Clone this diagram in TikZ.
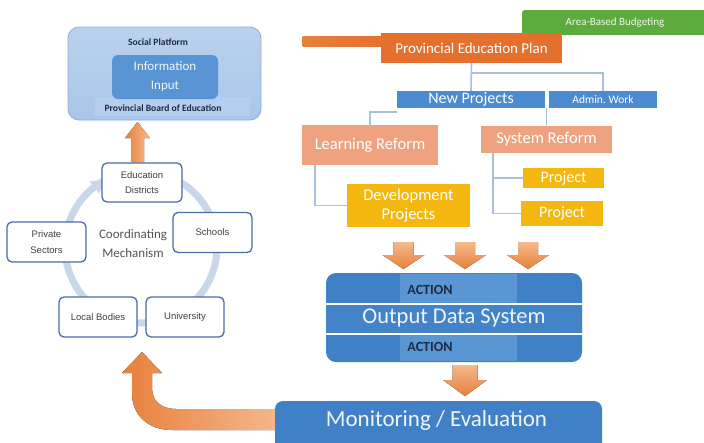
\documentclass[tikz,border=0pt]{standalone}
\usepackage{fontspec}
\setmainfont{Carlito}
\newfontfamily\arialfont{Liberation Sans}
\usetikzlibrary{calc}

\definecolor{panelblue}{HTML}{A9C6E9}
\definecolor{panelline}{HTML}{8EB0DB}
\definecolor{bandblue}{HTML}{B5CEEE}
\definecolor{infoblue}{HTML}{5893D3}
\definecolor{ringblue}{HTML}{C9D7EB}
\definecolor{edgeblue}{HTML}{4A6DA6}
\definecolor{planorange}{HTML}{E5702E}
\definecolor{salmon}{HTML}{EFA27F}
\definecolor{gold}{HTML}{F4B70F}
\definecolor{midblue}{HTML}{4B8BD2}
\definecolor{deepblue}{HTML}{3F80C6}
\definecolor{liteblue}{HTML}{5A96D3}
\definecolor{budgetgreen}{HTML}{5DAA3D}
\definecolor{linkblue}{HTML}{A8C0DE}
\definecolor{arrowlight}{HTML}{F5B88D}
\definecolor{arrowdark}{HTML}{E8803C}
\definecolor{inktext}{HTML}{1E2B42}
\definecolor{softgray}{HTML}{555555}

\tikzset{
  flatbox/.style={rectangle, inner sep=0pt, text=white, align=center},
  cbox/.style={draw=edgeblue, line width=1.3pt, fill=white, rounded corners=5pt,
    inner sep=0pt, minimum width=79pt, minimum height=40pt, align=center,
    text=black!75, font=\arialfont\fontsize{9.5}{15.5}\selectfont},
  link/.style={draw=linkblue, line width=1.6pt},
  blockarrow/.style={top color=arrowlight, bottom color=arrowdark, draw=none},
  actionlabel/.style={text=inktext, font=\bfseries\fontsize{14}{16}\selectfont},
  panellabel/.style={text=inktext, font=\bfseries\fontsize{9.6}{11}\selectfont},
}

% standard orange block arrow pointing down: centre x, top y
\newcommand{\dropArrow}[2]{%
  \fill[blockarrow] (#1-10,#2) -- (#1+10,#2) -- (#1+10,#2+13) -- (#1+21,#2+13)
    -- (#1,#2+27) -- (#1-21,#2+13) -- (#1-10,#2+13) -- cycle;}

\begin{document}
\begin{tikzpicture}[x=1pt,y=-1pt]
\clip (0,0) rectangle (704,442);
\fill[white] (0,0) rectangle (704,442);

% ---------- social platform ----------
\node[draw=panelline, line width=0.8pt, top color=panelblue!80!white, bottom color=panelblue, rounded corners=11pt,
      minimum width=193pt, minimum height=93pt, inner sep=0pt] (platform) at (164.5,73.5) {};
\node[fill=bandblue, minimum width=155pt, minimum height=19pt, inner sep=0pt] (band) at (172.5,106.5) {};
\node[flatbox, fill=infoblue, rounded corners=6pt, minimum width=106pt, minimum height=44pt,
      font=\fontsize{13}{19}\selectfont, text=white!92!infoblue] (info) at (165,77) {Information\\Input};
\node[panellabel] (social) at (158,42) {Social Platform};
\node[panellabel] (board) at (163,108) {Provincial Board of Education};

% ---------- coordinating ring ----------
\draw[ringblue, line width=7pt] (141,247) circle[radius=76];
\fill[ringblue] (89.5,181) -- (105.5,180) -- (99,193.5) -- cycle;
\node[text=softgray, align=center, font=\fontsize{13}{19}\selectfont] (coord) at (133,244) {Coordinating\\Mechanism};

\node[cbox, minimum width=80pt, minimum height=39pt] (districts) at (142,182.5) {Education\\Districts};
\node[cbox] (schools) at (212.5,232.5) {Schools};
\node[cbox] (private) at (46.5,242) {Private\\Sectors};
\node[cbox, minimum width=78pt] (local) at (98,317) {Local Bodies};
\node[cbox, minimum width=78pt] (university) at (185,317) {University};

% arrow from districts up to the platform
\fill[left color=arrowdark, right color=arrowlight]
  (131,162) -- (131,138) -- (125,138) -- (137.5,122) -- (150,138) -- (144,138) -- (144,162) -- cycle;

% ---------- plan hierarchy ----------
\node[flatbox, fill=budgetgreen, rounded corners=3pt, minimum width=186pt, minimum height=25pt,
      font=\fontsize{11}{13}\selectfont, text=white!90!budgetgreen] (budget) at (615,22.5) {Area-Based Budgeting};
\node[flatbox, left color=arrowdark, right color=planorange, minimum width=80pt, minimum height=10pt] (stub) at (342.5,41.5) {};
\node[flatbox, fill=planorange, minimum width=181pt, minimum height=30pt,
      font=\fontsize{15}{18}\selectfont] (plan) at (471.5,48) {Provincial Education Plan};

\node[flatbox, fill=midblue, minimum width=148pt, minimum height=17pt,
      font=\fontsize{16}{18}\selectfont] (newproj) at (471,99.5) {New Projects};
\node[flatbox, fill=midblue, minimum width=108pt, minimum height=17pt,
      font=\fontsize{11.5}{13}\selectfont] (admin) at (603,99.5) {Admin.\ Work};

\node[flatbox, fill=salmon, minimum width=136pt, minimum height=40pt,
      font=\fontsize{16.5}{19}\selectfont] (learning) at (370,145) {Learning Reform};
\node[flatbox, fill=salmon, minimum width=131pt, minimum height=27pt,
      font=\fontsize{16.5}{19}\selectfont] (system) at (546.5,139.5) {System Reform};

\node[flatbox, fill=gold, minimum width=123pt, minimum height=43pt,
      font=\fontsize{16.5}{19}\selectfont] (devproj) at (408.5,205.5) {Development\\Projects};
\node[flatbox, fill=gold, minimum width=81pt, minimum height=20pt,
      font=\fontsize{16}{18}\selectfont] (projA) at (563.5,178) {Project};
\node[flatbox, fill=gold, minimum width=82pt, minimum height=25pt,
      font=\fontsize{16}{18}\selectfont] (projB) at (562,213.5) {Project};

% connectors
\draw[link] (plan.south) -- (newproj.north);
\draw[link] (plan.south) -- ++(0,10) -| (admin.north);
\draw[link] (learning.north) |- ($(newproj.south west)+(0,4)$);
\draw[link] (system.north) -- (system.north |- newproj.south);
\draw[link] ($(learning.south west)+(13,0)$) |- (devproj.west);
\draw[link] ($(system.south west)+(12,0)$) |- (projA.west);
\draw[link] ($(system.south west)+(12,0)$) |- (projB.west);

% ---------- actions ----------
\dropArrow{403.5}{242}
\dropArrow{465}{242}
\dropArrow{528}{242}

\node[fill=deepblue, rounded corners=10pt, minimum width=256pt, minimum height=89pt, inner sep=0pt] (output) at (454,317.5) {};
\fill[liteblue] (400,273.6) rectangle (517,304);
\fill[liteblue] (400,334) rectangle (517,361.4);
\fill[deepblue!85!liteblue] ($(output.west)+(0,-13.5)$) rectangle ($(output.east)+(0,16.5)$);
\draw[white, line width=2.4pt] ($(output.west)+(0,-13.5)$) -- ($(output.east)+(0,-13.5)$);
\draw[white, line width=2.4pt] ($(output.west)+(0,16.5)$) -- ($(output.east)+(0,16.5)$);
\node[actionlabel] (acttop) at (430,290) {ACTION};
\node[actionlabel] (actbot) at (430,347) {ACTION};
\node[text=white!92!deepblue, font=\fontsize{22.5}{26}\selectfont] (outtext) at (454,318) {Output Data System};

\fill[blockarrow] (452.5,365) -- (477.5,365) -- (477.5,380) -- (487,380) -- (465,396)
  -- (443,380) -- (452.5,380) -- cycle;

% ---------- monitoring and feedback ----------
\fill[left color=arrowdark, right color=arrowlight]
  (280,409) -- (176,409) .. controls (160,409) and (152,400) .. (152,388)
  -- (152,373) -- (162,373) -- (142,352) -- (122,373) -- (132,373) -- (132,393)
  .. controls (132,415) and (148,430) .. (172,430) -- (280,430) -- cycle;

\node[fill=deepblue, rounded corners=8pt, minimum width=327pt, minimum height=50pt, inner sep=0pt] (monitor) at (438.5,426) {};
\node[text=white!92!deepblue, font=\fontsize{23}{26}\selectfont] (montext) at (436.5,420) {Monitoring / Evaluation};
\end{tikzpicture}
\end{document}
